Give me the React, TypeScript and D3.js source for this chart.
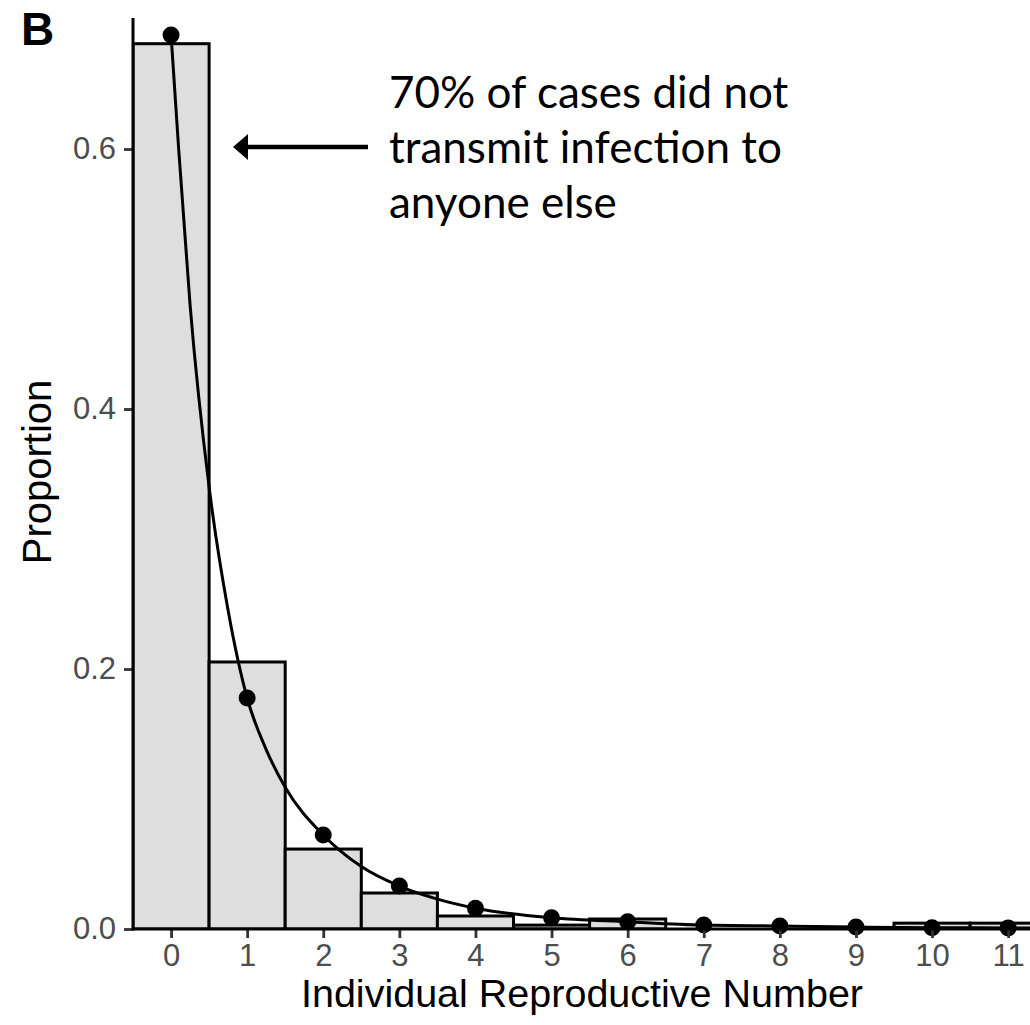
import React, { useEffect, useRef } from 'react';
import * as d3 from 'd3';

// number of secondary cases
const counts = [0, 1, 2, 3, 4, 5, 6, 7, 8, 9, 10, 11];
// observed proportion (bars)
const observed = [0.681, 0.2054, 0.0615, 0.0277, 0.01, 0.003, 0.0077, 0, 0, 0, 0.0045, 0.0045];
// fitted proportion (points)
const fitted = [0.6877, 0.1777, 0.0723, 0.033, 0.016, 0.0087, 0.0056, 0.003, 0.0023, 0.0015, 0.001, 0.0008];
// fitted curve
const curveX = [0, 0.1, 0.25, 0.5, 0.75, 1, 1.25, 1.5, 2, 2.5, 3, 3.5, 4, 5, 6, 7, 8, 9, 10, 11, 11.4];
const curveY = [0.688, 0.6, 0.48, 0.34, 0.245, 0.1777, 0.138, 0.109, 0.0723, 0.048, 0.033, 0.023, 0.016, 0.0087, 0.0056, 0.003, 0.0023, 0.0015, 0.001, 0.0008, 0.0007];
const yTicks = [0, 0.2, 0.4, 0.6];
const annotation = ['70% of cases did not', 'transmit infection to', 'anyone else'];

const App = () => {
  const ref = useRef<SVGSVGElement | null>(null);

  useEffect(() => {
    document.body.style.margin = '0';
    const width = 1030;
    const svg = d3.select(ref.current);
    svg.selectAll('*').remove();

    const x = d3.scaleLinear().domain([-0.5, 11.3]).range([133, 1031]);
    const y = d3.scaleLinear().domain([0, 0.7]).range([929, 19]);
    const font = "'Liberation Sans', Arial, sans-serif";

    svg.append('defs').append('clipPath').attr('id', 'plot-clip')
      .append('rect').attr('x', 133).attr('y', 0).attr('width', width - 133).attr('height', 929);

    const plot = svg.append('g').attr('clip-path', 'url(#plot-clip)');

    // bars
    plot.selectAll('.bar')
      .data(counts)
      .enter()
      .append('rect')
      .attr('x', d => x(d - 0.5))
      .attr('width', d => x(d + 0.5) - x(d - 0.5))
      .attr('y', (d, i) => y(observed[i]))
      .attr('height', (d, i) => y(0) - y(observed[i]))
      .attr('fill', '#dedede')
      .attr('stroke', '#000')
      .attr('stroke-width', 3);

    // fitted curve
    const line = d3.line<number>()
      .x(d => x(d))
      .y((d, i) => y(curveY[i]))
      .curve(d3.curveMonotoneX);
    plot.append('path')
      .datum(curveX)
      .attr('d', line)
      .attr('fill', 'none')
      .attr('stroke', '#000')
      .attr('stroke-width', 3);

    // fitted points
    svg.selectAll('.pt')
      .data(counts)
      .enter()
      .append('circle')
      .attr('cx', d => x(d))
      .attr('cy', (d, i) => y(fitted[i]))
      .attr('r', 8.5)
      .attr('fill', '#000');

    // axes
    const xAxis = svg.append('g')
      .attr('transform', `translate(0, ${y(0)})`)
      .call(d3.axisBottom(x).tickValues(counts).tickSize(9).tickPadding(6).tickFormat(d3.format('d')));
    const yAxis = svg.append('g')
      .attr('transform', `translate(133, 0)`)
      .call(d3.axisLeft(y).tickValues(yTicks).tickSize(9).tickPadding(8).tickFormat(d3.format('.1f')));

    [xAxis, yAxis].forEach(a => {
      a.select('.domain').remove();
      a.selectAll('.tick line').attr('stroke', '#333').attr('stroke-width', 2.8);
      a.selectAll('.tick text')
        .attr('fill', '#4d4d4d')
        .style('font-size', '31px')
        .style('font-family', font);
    });

    svg.append('line')
      .attr('x1', 133).attr('x2', width)
      .attr('y1', y(0)).attr('y2', y(0))
      .attr('stroke', '#000').attr('stroke-width', 3);
    svg.append('line')
      .attr('x1', 133).attr('x2', 133)
      .attr('y1', 18).attr('y2', y(0) + 1.5)
      .attr('stroke', '#000').attr('stroke-width', 3);

    // axis titles
    svg.append('text')
      .attr('x', 582)
      .attr('y', 1007)
      .attr('text-anchor', 'middle')
      .style('font-size', '39.5px')
      .style('font-family', font)
      .attr('fill', '#000')
      .text('Individual Reproductive Number');

    svg.append('text')
      .attr('transform', 'translate(51, 472) rotate(-90)')
      .attr('text-anchor', 'middle')
      .style('font-size', '40px')
      .style('font-family', font)
      .attr('fill', '#000')
      .text('Proportion');

    // panel letter
    svg.append('text')
      .attr('x', 21)
      .attr('y', 45)
      .style('font-size', '46px')
      .style('font-weight', 'bold')
      .style('font-family', font)
      .text('B');

    // annotation arrow
    svg.append('line')
      .attr('x1', 368).attr('x2', 244)
      .attr('y1', 147).attr('y2', 147)
      .attr('stroke', '#000').attr('stroke-width', 4.6);
    svg.append('path')
      .attr('d', d3.line()([[233, 147], [248, 134], [248, 160]]) + 'Z')
      .attr('fill', '#000');

    svg.append('g')
      .selectAll('text')
      .data(annotation)
      .enter()
      .append('text')
      .attr('x', 389)
      .attr('y', (d, i) => 108 + i * 55)
      .style('font-size', '44px')
      .style('font-family', "Lato, 'Open Sans', sans-serif")
      .attr('fill', '#000')
      .text(d => d);
  }, []);

  return <svg ref={ref} width={1030} height={1025} style={{ display: 'block', background: '#fff' }} />;
};

export default App;
